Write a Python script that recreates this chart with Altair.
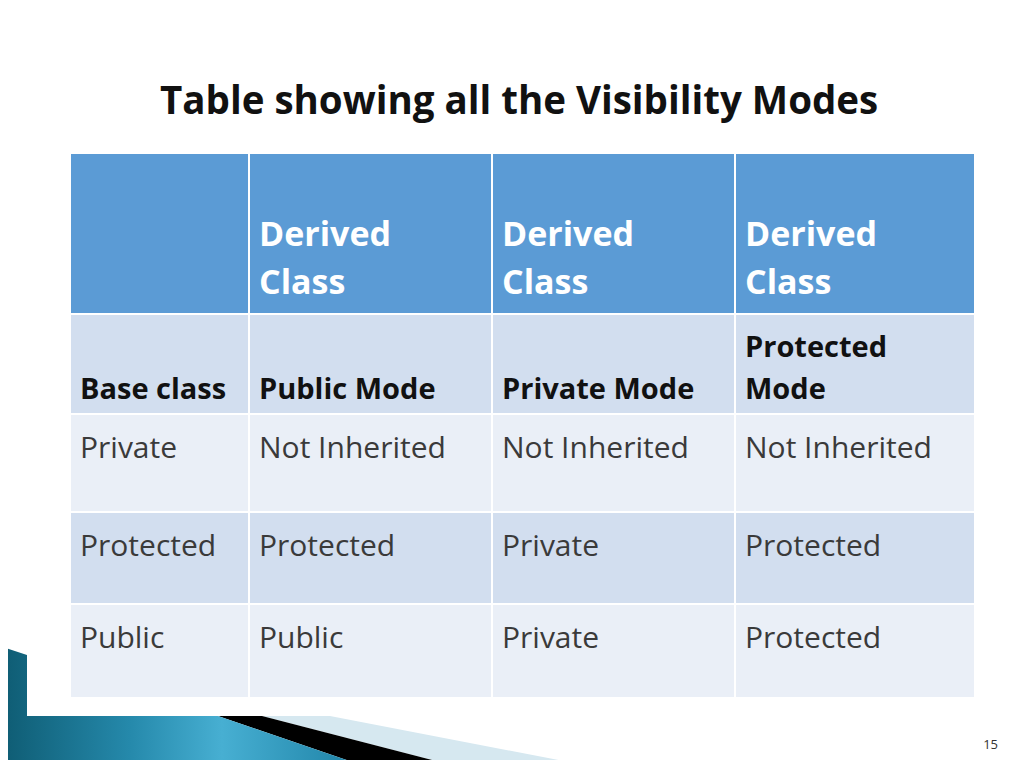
import altair as alt
import pandas as pd

# table content
title_text = "Table showing all the Visibility Modes"
header_row = ["", "Derived\nClass", "Derived\nClass", "Derived\nClass"]
mode_row = ["Base class", "Public Mode", "Private Mode", "Protected\nMode"]
base_classes = ["Private", "Protected", "Public"]
public_mode = ["Not Inherited", "Protected", "Public"]
private_mode = ["Not Inherited", "Private", "Private"]
protected_mode = ["Not Inherited", "Protected", "Protected"]
page_number = "15"

# slide layout, in page pixels
col_edges = [70, 249, 492, 735, 975]
row_edges = [153, 314, 414, 512, 604, 698]
row_fills = ["#5b9bd5", "#d2deef", "#eaeff7", "#d2deef", "#eaeff7"]
FONT = "Open Sans"

rows = [header_row, mode_row] + [list(r) for r in zip(base_classes, public_mode, private_mode, protected_mode)]

cells = []
texts = []
for r, row in enumerate(rows):
    top, bottom = row_edges[r], row_edges[r + 1]
    for c, val in enumerate(row):
        left, right = col_edges[c], col_edges[c + 1]
        cells.append({"x": left + 1, "x2": right - 1, "y": top + 1, "y2": bottom - 1, "fill": row_fills[r]})
        lines = val.split("\n") if val else []
        n = len(lines)
        for i, line in enumerate(lines):
            if r == 0:
                style, by = "head", bottom - 20 - (n - 1 - i) * 48
            elif r == 1:
                style, by = "mode", bottom - 15 - (n - 1 - i) * 42
            else:
                style, by = "body", top + 44 + i * 42
            texts.append({"x": left + 10, "y": by, "text": line, "style": style})

cells_df = pd.DataFrame(cells)
text_df = pd.DataFrame(texts)

# footer decoration polygons
deco = {
    "teal": [(0, 646), (27, 655), (27, 716), (218, 716), (370, 768), (0, 768)],
    "black": [(218, 716), (262, 716), (463, 768), (370, 768)],
    "pale": [(262, 716), (330, 716), (600, 768), (463, 768)],
}
deco_df = pd.DataFrame(
    [{"shape": k, "order": i, "x": p[0], "y": p[1]} for k, pts in deco.items() for i, p in enumerate(pts)]
)

xs = alt.Scale(domain=[8, 1016], nice=False, zero=False)
ys = alt.Scale(domain=[8, 760], nice=False, zero=False, reverse=True)
X = lambda f: alt.X(f, scale=xs, axis=None)
Y = lambda f: alt.Y(f, scale=ys, axis=None)

rects = alt.Chart(cells_df).mark_rect().encode(
    x=X("x:Q"), x2="x2:Q", y=Y("y:Q"), y2="y2:Q",
    color=alt.Color("fill:N", scale=None),
)


def text_layer(style, size, weight, color):
    return alt.Chart(text_df).transform_filter(alt.datum.style == style).mark_text(
        align="left", baseline="alphabetic", font=FONT, fontSize=size, fontWeight=weight, color=color
    ).encode(x=X("x:Q"), y=Y("y:Q"), text="text:N")


head_txt = text_layer("head", 34, "bold", "#ffffff")
mode_txt = text_layer("mode", 29, "bold", "#111111")
body_txt = text_layer("body", 30, "normal", "#3a3a3a")

title_df = pd.DataFrame([{"x": 160, "y": 114, "text": title_text}])
title = alt.Chart(title_df).mark_text(
    align="left", baseline="alphabetic", font=FONT, fontSize=38.5, fontWeight="bold", color="#111111"
).encode(x=X("x:Q"), y=Y("y:Q"), text="text:N")

num_df = pd.DataFrame([{"x": 998, "y": 749, "text": page_number}])
num = alt.Chart(num_df).mark_text(
    align="right", baseline="alphabetic", font=FONT, fontSize=13, color="#333333"
).encode(x=X("x:Q"), y=Y("y:Q"), text="text:N")

teal_grad = alt.Gradient(
    gradient="linear", x1=0, y1=0, x2=1, y2=0,
    stops=[
        alt.GradientStop(offset=0, color="#0e5b72"),
        alt.GradientStop(offset=0.35, color="#2589ab"),
        alt.GradientStop(offset=0.6, color="#47afd2"),
        alt.GradientStop(offset=1, color="#1b7fa3"),
    ],
)


def deco_layer(name, fill):
    return alt.Chart(deco_df).transform_filter(alt.datum.shape == name).mark_line(
        fill=fill, strokeWidth=0
    ).encode(x=X("x:Q"), y=Y("y:Q"), order="order:Q")


teal = deco_layer("teal", teal_grad)
black = deco_layer("black", "#000000")
pale = deco_layer("pale", "#d6e8f0")

chart = alt.layer(pale, black, teal, rects, head_txt, mode_txt, body_txt, title, num).properties(
    width=1008, height=752, padding=0, autosize="none", background="#ffffff"
).configure_view(strokeWidth=0)

chart.save("out.html", embed_options={"renderer": "svg", "actions": False})
